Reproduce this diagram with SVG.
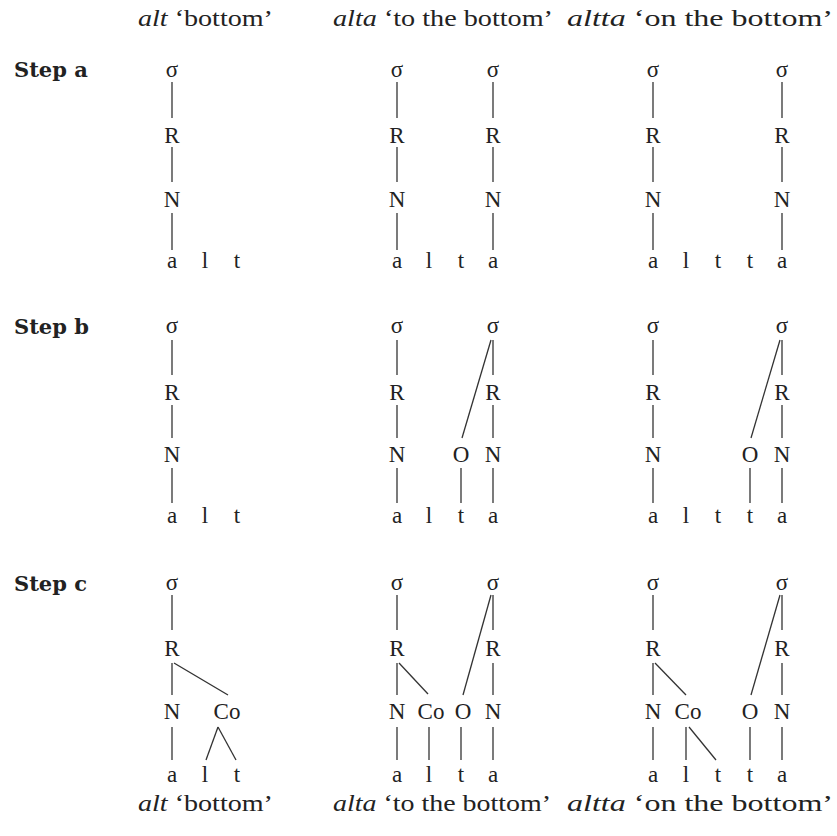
<svg xmlns="http://www.w3.org/2000/svg" width="837" height="836" viewBox="0 0 837 836">
<style>
text{font-family:"Liberation Serif","Times New Roman",serif;fill:#222}
.n{font-size:23px;text-anchor:middle}
.h{font-size:24px}
.s{font-family:"DejaVu Serif","Liberation Serif",serif;font-weight:bold;font-size:21px}
.e line{stroke:#333;stroke-width:1.3;fill:none}
</style>
<rect width="837" height="836" fill="#fff"/>
<g id="headers">
<text class="h" x="138" y="26" textLength="135" lengthAdjust="spacingAndGlyphs"><tspan font-style="italic">alt</tspan> ‘bottom’</text>
<text class="h" x="333" y="26" textLength="220" lengthAdjust="spacingAndGlyphs"><tspan font-style="italic">alta</tspan> ‘to the bottom’</text>
<text class="h" x="567" y="26" textLength="266" lengthAdjust="spacingAndGlyphs"><tspan font-style="italic">altta</tspan> ‘on the bottom’</text>
</g>
<g id="step-labels">
<text class="s" x="14" y="77">Step a</text>
<text class="s" x="14" y="334">Step b</text>
<text class="s" x="14" y="591">Step c</text>
</g>
<g id="footers">
<text class="h" x="138" y="811" textLength="135" lengthAdjust="spacingAndGlyphs"><tspan font-style="italic">alt</tspan> ‘bottom’</text>
<text class="h" x="333" y="811" textLength="218" lengthAdjust="spacingAndGlyphs"><tspan font-style="italic">alta</tspan> ‘to the bottom’</text>
<text class="h" x="567" y="811" textLength="266" lengthAdjust="spacingAndGlyphs"><tspan font-style="italic">altta</tspan> ‘on the bottom’</text>
</g>
<g id="connectors" class="e">
<line x1="172" y1="82" x2="172" y2="118"/><line x1="172" y1="147" x2="172" y2="182"/><line x1="172" y1="213" x2="172" y2="250"/>
<line x1="397" y1="82" x2="397" y2="118"/><line x1="397" y1="147" x2="397" y2="182"/><line x1="397" y1="213" x2="397" y2="250"/>
<line x1="493" y1="82" x2="493" y2="118"/><line x1="493" y1="147" x2="493" y2="182"/><line x1="493" y1="213" x2="493" y2="250"/>
<line x1="653" y1="82" x2="653" y2="118"/><line x1="653" y1="147" x2="653" y2="182"/><line x1="653" y1="213" x2="653" y2="250"/>
<line x1="782" y1="82" x2="782" y2="118"/><line x1="782" y1="147" x2="782" y2="182"/><line x1="782" y1="213" x2="782" y2="250"/>
<line x1="172" y1="340" x2="172" y2="375"/><line x1="172" y1="405" x2="172" y2="438"/><line x1="172" y1="468" x2="172" y2="503"/>
<line x1="397" y1="340" x2="397" y2="375"/><line x1="397" y1="405" x2="397" y2="438"/><line x1="397" y1="468" x2="397" y2="503"/>
<line x1="493" y1="340" x2="493" y2="375"/><line x1="493" y1="405" x2="493" y2="438"/><line x1="493" y1="468" x2="493" y2="503"/>
<line x1="491" y1="340" x2="462" y2="438"/><line x1="461" y1="468" x2="461" y2="503"/>
<line x1="653" y1="340" x2="653" y2="375"/><line x1="653" y1="405" x2="653" y2="438"/><line x1="653" y1="468" x2="653" y2="503"/>
<line x1="782" y1="340" x2="782" y2="375"/><line x1="782" y1="405" x2="782" y2="438"/><line x1="782" y1="468" x2="782" y2="503"/>
<line x1="780" y1="340" x2="751" y2="438"/><line x1="750" y1="468" x2="750" y2="503"/>
<line x1="172" y1="595" x2="172" y2="630"/><line x1="172" y1="663" x2="172" y2="695"/><line x1="172" y1="727" x2="172" y2="760"/>
<line x1="174" y1="663" x2="228" y2="695"/><line x1="218" y1="727" x2="206" y2="760"/><line x1="218" y1="727" x2="236" y2="760"/>
<line x1="397" y1="595" x2="397" y2="630"/><line x1="397" y1="663" x2="397" y2="695"/><line x1="397" y1="727" x2="397" y2="760"/>
<line x1="493" y1="595" x2="493" y2="630"/><line x1="493" y1="663" x2="493" y2="695"/><line x1="493" y1="727" x2="493" y2="760"/>
<line x1="399" y1="663" x2="428" y2="694"/><line x1="491" y1="595" x2="463" y2="695"/>
<line x1="429" y1="727" x2="429" y2="760"/><line x1="461" y1="727" x2="461" y2="760"/>
<line x1="653" y1="595" x2="653" y2="630"/><line x1="653" y1="663" x2="653" y2="695"/><line x1="653" y1="727" x2="653" y2="760"/>
<line x1="782" y1="595" x2="782" y2="630"/><line x1="782" y1="663" x2="782" y2="695"/><line x1="782" y1="727" x2="782" y2="760"/>
<line x1="655" y1="663" x2="686" y2="695"/><line x1="780" y1="595" x2="751" y2="695"/>
<line x1="686" y1="727" x2="686" y2="760"/><line x1="689" y1="727" x2="716" y2="760"/><line x1="750" y1="727" x2="750" y2="760"/>
</g>
<g id="step-a-alt">
<g id="a1-syl"><text class="n" x="172" y="77">σ</text></g>
<g id="a1-R"><text class="n" x="172" y="143">R</text></g>
<g id="a1-N"><text class="n" x="172" y="207">N</text></g>
<g id="a1-seg"><text class="n" x="172" y="268">a</text><text class="n" x="205" y="268">l</text><text class="n" x="237" y="268">t</text></g>
</g>
<g id="step-a-alta">
<g id="a2-syl1"><text class="n" x="397" y="77">σ</text></g>
<g id="a2-R1"><text class="n" x="397" y="143">R</text></g>
<g id="a2-N1"><text class="n" x="397" y="207">N</text></g>
<g id="a2-syl2"><text class="n" x="493" y="77">σ</text></g>
<g id="a2-R2"><text class="n" x="493" y="143">R</text></g>
<g id="a2-N2"><text class="n" x="493" y="207">N</text></g>
<g id="a2-seg"><text class="n" x="397" y="268">a</text><text class="n" x="429" y="268">l</text><text class="n" x="461" y="268">t</text><text class="n" x="493" y="268">a</text></g>
</g>
<g id="step-a-altta">
<g id="a3-syl1"><text class="n" x="653" y="77">σ</text></g>
<g id="a3-R1"><text class="n" x="653" y="143">R</text></g>
<g id="a3-N1"><text class="n" x="653" y="207">N</text></g>
<g id="a3-syl2"><text class="n" x="782" y="77">σ</text></g>
<g id="a3-R2"><text class="n" x="782" y="143">R</text></g>
<g id="a3-N2"><text class="n" x="782" y="207">N</text></g>
<g id="a3-seg"><text class="n" x="653" y="268">a</text><text class="n" x="686" y="268">l</text><text class="n" x="718" y="268">t</text><text class="n" x="750" y="268">t</text><text class="n" x="782" y="268">a</text></g>
</g>
<g id="step-b-alt">
<g id="b1-syl"><text class="n" x="172" y="333">σ</text></g>
<g id="b1-R"><text class="n" x="172" y="400">R</text></g>
<g id="b1-N"><text class="n" x="172" y="462">N</text></g>
<g id="b1-seg"><text class="n" x="172" y="523">a</text><text class="n" x="205" y="523">l</text><text class="n" x="237" y="523">t</text></g>
</g>
<g id="step-b-alta">
<g id="b2-syl1"><text class="n" x="397" y="333">σ</text></g>
<g id="b2-R1"><text class="n" x="397" y="400">R</text></g>
<g id="b2-N1"><text class="n" x="397" y="462">N</text></g>
<g id="b2-syl2"><text class="n" x="493" y="333">σ</text></g>
<g id="b2-R2"><text class="n" x="493" y="400">R</text></g>
<g id="b2-O"><text class="n" x="461" y="462">O</text></g>
<g id="b2-N2"><text class="n" x="493" y="462">N</text></g>
<g id="b2-seg"><text class="n" x="397" y="523">a</text><text class="n" x="429" y="523">l</text><text class="n" x="461" y="523">t</text><text class="n" x="493" y="523">a</text></g>
</g>
<g id="step-b-altta">
<g id="b3-syl1"><text class="n" x="653" y="333">σ</text></g>
<g id="b3-R1"><text class="n" x="653" y="400">R</text></g>
<g id="b3-N1"><text class="n" x="653" y="462">N</text></g>
<g id="b3-syl2"><text class="n" x="782" y="333">σ</text></g>
<g id="b3-R2"><text class="n" x="782" y="400">R</text></g>
<g id="b3-O"><text class="n" x="750" y="462">O</text></g>
<g id="b3-N2"><text class="n" x="782" y="462">N</text></g>
<g id="b3-seg"><text class="n" x="653" y="523">a</text><text class="n" x="686" y="523">l</text><text class="n" x="718" y="523">t</text><text class="n" x="750" y="523">t</text><text class="n" x="782" y="523">a</text></g>
</g>
<g id="step-c-alt">
<g id="c1-syl"><text class="n" x="172" y="590">σ</text></g>
<g id="c1-R"><text class="n" x="172" y="656">R</text></g>
<g id="c1-N"><text class="n" x="172" y="719">N</text></g>
<g id="c1-Co"><text class="n" x="227" y="719">Co</text></g>
<g id="c1-seg"><text class="n" x="172" y="782">a</text><text class="n" x="205" y="782">l</text><text class="n" x="237" y="782">t</text></g>
</g>
<g id="step-c-alta">
<g id="c2-syl1"><text class="n" x="397" y="590">σ</text></g>
<g id="c2-R1"><text class="n" x="397" y="656">R</text></g>
<g id="c2-N1"><text class="n" x="397" y="719">N</text></g>
<g id="c2-Co"><text class="n" x="431" y="719">Co</text></g>
<g id="c2-syl2"><text class="n" x="493" y="590">σ</text></g>
<g id="c2-R2"><text class="n" x="493" y="656">R</text></g>
<g id="c2-O"><text class="n" x="463" y="719">O</text></g>
<g id="c2-N2"><text class="n" x="493" y="719">N</text></g>
<g id="c2-seg"><text class="n" x="397" y="782">a</text><text class="n" x="429" y="782">l</text><text class="n" x="461" y="782">t</text><text class="n" x="493" y="782">a</text></g>
</g>
<g id="step-c-altta">
<g id="c3-syl1"><text class="n" x="653" y="590">σ</text></g>
<g id="c3-R1"><text class="n" x="653" y="656">R</text></g>
<g id="c3-N1"><text class="n" x="653" y="719">N</text></g>
<g id="c3-Co"><text class="n" x="688" y="719">Co</text></g>
<g id="c3-syl2"><text class="n" x="782" y="590">σ</text></g>
<g id="c3-R2"><text class="n" x="782" y="656">R</text></g>
<g id="c3-O"><text class="n" x="750" y="719">O</text></g>
<g id="c3-N2"><text class="n" x="782" y="719">N</text></g>
<g id="c3-seg"><text class="n" x="653" y="782">a</text><text class="n" x="686" y="782">l</text><text class="n" x="718" y="782">t</text><text class="n" x="750" y="782">t</text><text class="n" x="782" y="782">a</text></g>
</g>
</svg>
